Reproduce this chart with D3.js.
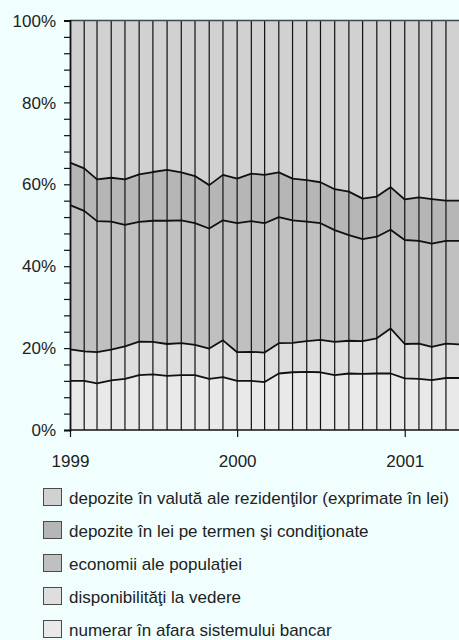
<!DOCTYPE html>
<html>
<head>
<meta charset="utf-8">
<script src="https://cdn.jsdelivr.net/npm/d3@7"></script>
<style>
  html, body { margin: 0; padding: 0; background: #f0fffe; }
  svg { display: block; }
  text { font-family: "Liberation Sans", Arial, sans-serif; fill: #222; }
</style>
</head>
<body>
<svg id="chart" width="459" height="640"></svg>
<script>
// Months: Jan 1999 .. May 2001 (29 observations), shares in % of total
const months = d3.range(29).map(i => new Date(1999, i, 1));

const numerar         = [12.0,12.0,11.4,12.1,12.5,13.4,13.6,13.2,13.4,13.4,12.5,12.9,12.0,12.0,11.7,13.8,14.1,14.2,14.1,13.4,13.8,13.7,13.8,13.8,12.6,12.5,12.2,12.7,12.7];
const disponibilitati = [7.7,7.2,7.6,7.5,7.9,8.2,7.9,7.8,7.8,7.4,7.4,9.0,7.0,7.1,7.2,7.4,7.2,7.5,7.9,8.1,8.0,8.0,8.6,11.0,8.4,8.6,8.1,8.4,8.2];
const economii        = [35.2,34.3,32.0,31.3,29.7,29.2,29.6,30.1,30.0,29.7,29.3,29.3,31.5,31.9,31.6,30.8,29.9,29.2,28.5,27.3,25.8,24.9,24.8,24.1,25.4,25.1,25.2,25.1,25.3];
const depoziteLei     = [10.4,10.4,10.2,10.7,11.1,11.6,11.9,12.4,11.7,11.5,10.6,11.1,10.9,11.6,11.8,10.9,10.2,10.1,10.0,10.0,10.6,9.9,9.8,10.4,9.9,10.6,10.9,9.8,9.8];
const depoziteValuta  = [34.7,36.1,38.8,38.4,38.8,37.6,37.0,36.5,37.1,38.0,40.2,37.7,38.6,37.4,37.7,37.1,38.6,39.0,39.5,41.2,41.8,43.5,43.0,40.7,43.7,43.2,43.6,44.0,44.0];

const seriesNames = [
  "numerar în afara sistemului bancar",
  "disponibilităţi la vedere",
  "economii ale populaţiei",
  "depozite în lei pe termen şi condiţionate",
  "depozite în valută ale rezidenţilor (exprimate în lei)"
];
const seriesColors = ["#e9e9e9", "#dedede", "#c0c0c0", "#b6b6b6", "#d1d1d1"];
const yTickValues = [0, 20, 40, 60, 80, 100];
const yearTicks = [new Date(1999,0,1), new Date(2000,0,1), new Date(2001,0,1)];
const yearLabels = ["1999", "2000", "2001"];

const seriesData = [numerar, disponibilitati, economii, depoziteLei, depoziteValuta];
const table = months.map((m, i) => {
  const row = { date: m };
  seriesData.forEach((s, k) => row["s" + k] = s[i]);
  return row;
});
const keys = seriesData.map((s, k) => "s" + k);

const svg = d3.select("#chart");
const mLeft = 70, mRight = 459.7, mTop = 20.5, mBottom = 430;

const x = d3.scaleTime().domain([months[0], months[months.length - 1]]).range([mLeft, mRight]);
const y = d3.scaleLinear().domain([0, 100]).range([mBottom, mTop]);

const stacked = d3.stack().keys(keys)(table);

const area = d3.area()
  .x(d => x(d.data.date))
  .y0(d => y(d[0]))
  .y1(d => y(d[1]));

svg.append("g").selectAll("path").data(stacked).join("path")
  .attr("d", area)
  .attr("fill", (d, i) => seriesColors[i]);

// vertical grid lines at each month
svg.append("g").selectAll("line").data(months.slice(1)).join("line")
  .attr("x1", d => x(d)).attr("x2", d => x(d))
  .attr("y1", y(0)).attr("y2", y(100))
  .attr("stroke", "#111").attr("stroke-width", 1.2);

// boundary lines
const line = d3.line().x(d => x(d.data.date)).y(d => y(d[1]));
svg.append("g").selectAll("path").data(stacked.slice(0, 4)).join("path")
  .attr("d", line)
  .attr("fill", "none")
  .attr("stroke", "#111")
  .attr("stroke-width", 1.8)
  .attr("stroke-linejoin", "round");

// top border
svg.append("line")
  .attr("x1", mLeft).attr("x2", 459).attr("y1", y(100)).attr("y2", y(100))
  .attr("stroke", "#3b4a4a").attr("stroke-width", 1.5);

// y axis
const yAxis = d3.axisLeft(y)
  .tickValues(d3.range(0, 101, 4))
  .tickSize(6)
  .tickFormat("");
const gy = svg.append("g").attr("transform", `translate(${mLeft},0)`).call(yAxis);
gy.select(".domain").attr("stroke", "#111").attr("stroke-width", 1.8);
gy.selectAll(".tick line").attr("stroke", "#111").attr("stroke-width", 1.2);

svg.append("g").selectAll("text").data(yTickValues).join("text")
  .attr("x", 56).attr("y", d => y(d))
  .attr("dy", "0.36em")
  .attr("text-anchor", "end")
  .attr("font-size", 17)
  .text(d => d + "%");

// x axis
const xAxis = d3.axisBottom(x).tickValues(yearTicks).tickSize(7).tickFormat((d, i) => yearLabels[i]);
const gx = svg.append("g").attr("transform", `translate(0,${mBottom})`).call(xAxis);
gx.select(".domain").attr("stroke", "#111").attr("stroke-width", 1.5).attr("d", `M${mLeft},0H${mRight}`);
gx.selectAll(".tick line").attr("stroke", "#111").attr("stroke-width", 1.2);
gx.selectAll(".tick text")
  .attr("y", 25).attr("dy", "0.71em")
  .attr("font-size", 17)
  .attr("font-family", "Liberation Sans, Arial, sans-serif")
  .attr("fill", "#222");

// legend (top to bottom: reverse stack order)
const legendOrder = [4, 3, 2, 1, 0];
const lg = svg.append("g").selectAll("g").data(legendOrder).join("g")
  .attr("transform", (d, i) => `translate(43.5,${488.5 + i * 33})`);
lg.append("rect")
  .attr("width", 18).attr("height", 17)
  .attr("fill", d => seriesColors[d])
  .attr("stroke", "#4a4a4a").attr("stroke-width", 1);
lg.append("text")
  .attr("x", 25.5).attr("y", 9).attr("dy", "0.36em")
  .attr("font-size", 17)
  .text(d => seriesNames[d]);
</script>
</body>
</html>
